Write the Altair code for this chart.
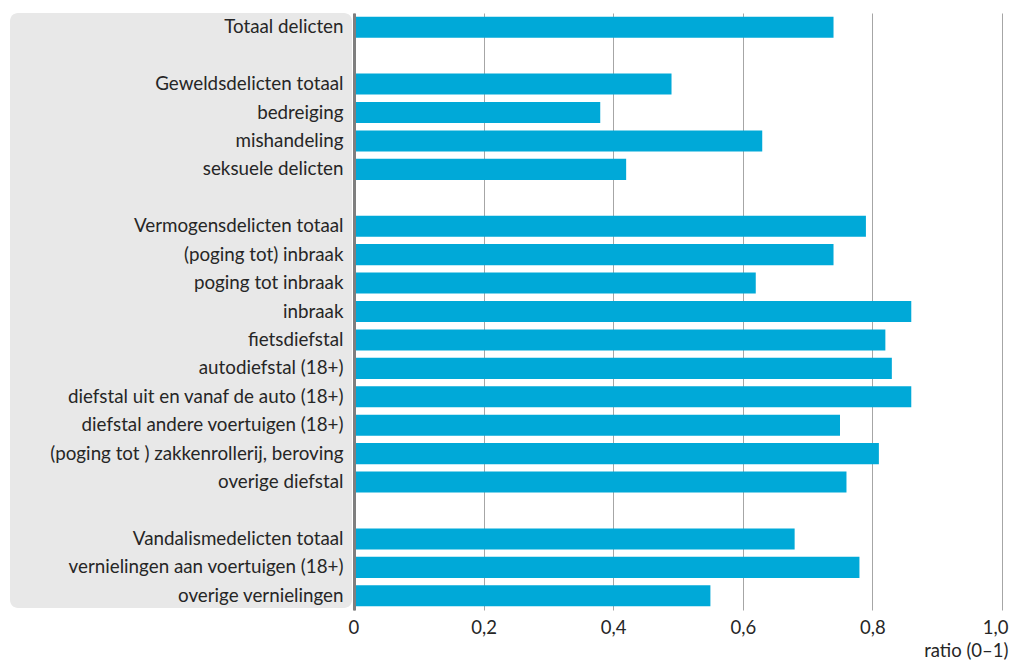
import altair as alt
import pandas as pd

categories = [
    "Totaal delicten", " ",
    "Geweldsdelicten totaal", "bedreiging", "mishandeling", "seksuele delicten", "  ",
    "Vermogensdelicten totaal", "(poging tot) inbraak", "poging tot inbraak", "inbraak ",
    "fietsdiefstal", "autodiefstal (18+)", "diefstal uit en vanaf de auto (18+)",
    "diefstal andere voertuigen (18+)", "(poging tot ) zakkenrollerij, beroving",
    "overige diefstal", "   ",
    "Vandalismedelicten totaal", "vernielingen aan voertuigen (18+)", "overige vernielingen",
]
values = [
    0.74, None,
    0.49, 0.38, 0.63, 0.42, None,
    0.79, 0.74, 0.62, 0.86, 0.82, 0.83, 0.86, 0.75, 0.81, 0.76, None,
    0.68, 0.78, 0.55,
]

df = pd.DataFrame({"cat": categories, "val": values})

W, H = 648, 597
FONT = "Lato"

panel = alt.Chart(pd.DataFrame({"a": [0]})).mark_rect(
    color="#e8e8e8", cornerRadius=8
).encode(
    x=alt.value(-344), x2=alt.value(-2), y=alt.value(0), y2=alt.value(H - 2)
)

bars = alt.Chart(df).mark_bar(color="#00a9d8").encode(
    y=alt.Y("cat:N", sort=categories,
            scale=alt.Scale(paddingInner=0.26, paddingOuter=0.13),
            axis=alt.Axis(title=None, labelFont=FONT, labelFontSize=18.8,
                          labelColor="#262626", labelPadding=11, ticks=False,
                          domainColor="#7f7f7f", domainWidth=3, labelLimit=400,
                          zindex=2)),
    x=alt.X("val:Q", scale=alt.Scale(domain=[0, 1]),
            axis=alt.Axis(values=[0, 0.2, 0.4, 0.6, 0.8, 1.0],
                          labelExpr="datum.value == 0 ? '0' : replace(format(datum.value, '.1f'), '.', ',')",
                          labelFont=FONT, labelFontSize=18.5, labelColor="#262626",
                          labelPadding=8, labelFlush=True, labelFlushOffset=6,
                          ticks=False, domain=False,
                          grid=True, gridColor="#a6a6a6", gridWidth=1,
                          title="ratio (0–1)", titleFont=FONT, titleFontSize=18.5,
                          titleFontWeight="normal", titleColor="#262626",
                          titleAnchor="end", titleAlign="right", titleBaseline="bottom",
                          titleX=654, titleY=50)),
)

chart = alt.layer(panel, bars).properties(
    width=W, height=H,
    autosize=alt.AutoSizeParams(type="none"),
    padding={"left": 346, "top": 5, "right": 7, "bottom": 50},
).configure_view(stroke=None)

chart.save("out.html", embed_options={"renderer": "svg", "actions": False})
